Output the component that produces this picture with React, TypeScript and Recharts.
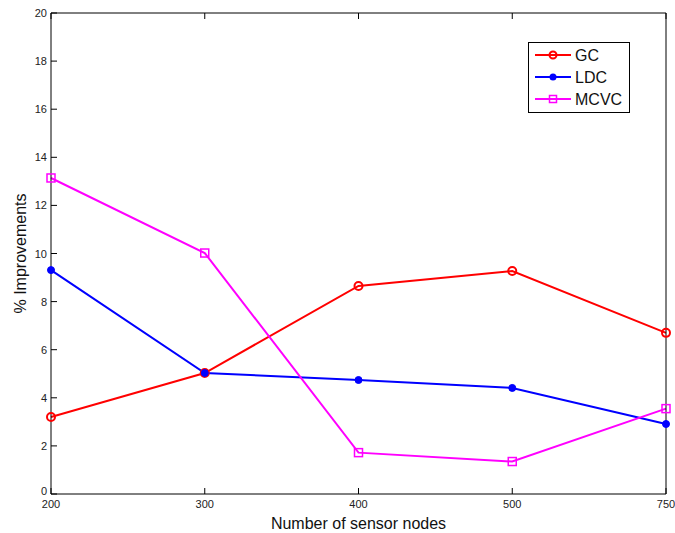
import { LineChart, Line, XAxis, YAxis } from "recharts";

const nodes = ["200", "300", "400", "500", "750"];
const gc = [3.2, 5.03, 8.65, 9.27, 6.7];
const ldc = [9.31, 5.03, 4.74, 4.41, 2.91];
const mcvc = [13.14, 10.02, 1.72, 1.35, 3.55];
const yTicks = [0, 2, 4, 6, 8, 10, 12, 14, 16, 18, 20];

const data = nodes.map((n, i) => ({ n, gc: gc[i], ldc: ldc[i], mcvc: mcvc[i] }));

const FONT = "'Liberation Sans', Arial, sans-serif";

const LeftTick = ({ x, y, payload }: any) => (
    <g>
        <line x1={x} y1={y} x2={x + 6} y2={y} stroke="#000" />
        <text x={x - 4} y={payload.value === 0 ? y + 1 : y + 4} textAnchor="end" fontSize={11} fill="#222" fontFamily={FONT}>{payload.value}</text>
    </g>
);
const RightTick = ({ x, y }: any) => <line x1={x} y1={y} x2={x - 6} y2={y} stroke="#000" />;
const BottomTick = ({ x, y, payload }: any) => (
    <g>
        <line x1={x} y1={y} x2={x} y2={y - 6} stroke="#000" />
        <text x={x} y={y + 14} textAnchor="middle" fontSize={11} fill="#222" fontFamily={FONT}>{payload.value}</text>
    </g>
);
const TopTick = ({ x, y }: any) => <line x1={x} y1={y} x2={x} y2={y + 6} stroke="#000" />;

const SquareDot = ({ cx, cy }: any) => (
    <rect x={cx - 4} y={cy - 4} width={8} height={8} fill="none" stroke="#ff00ff" strokeWidth={1.5} />
);

const items = [
    { name: "GC", color: "#ff0000", kind: "open" },
    { name: "LDC", color: "#0000ff", kind: "fill" },
    { name: "MCVC", color: "#ff00ff", kind: "square" },
];

const LegendBox = () => (
    <svg width={102} height={71} style={{ position: "absolute", left: 528, top: 42 }}>
        <rect x={0.5} y={0.5} width={101} height={70} fill="#fff" stroke="#000" />
        {items.map((it, i) => {
            const y = 13 + i * 22;
            return (
                <g key={it.name}>
                    <line x1={7} y1={y} x2={43} y2={y} stroke={it.color} strokeWidth={2} />
                    {it.kind === "open" && <circle cx={25} cy={y} r={3.5} fill="none" stroke={it.color} strokeWidth={2} />}
                    {it.kind === "fill" && <circle cx={25} cy={y} r={3.5} fill={it.color} />}
                    {it.kind === "square" && <rect x={21.5} y={y - 3.5} width={7} height={7} fill="none" stroke={it.color} strokeWidth={1.5} />}
                    <text x={47} y={y + 6} fontSize={16} fill="#111" fontFamily={FONT}>{it.name}</text>
                </g>
            );
        })}
    </svg>
);

export default function App() {
    return (
        <div style={{ position: "absolute", left: 0, top: 0, width: 675, height: 533, background: "#fff" }}>
            <LineChart width={675} height={533} data={data} margin={{ top: 12, right: 8, bottom: 0, left: 0 }}>
                <XAxis dataKey="n" xAxisId="b" scale="point" padding={{ left: 0, right: 0 }} height={39}
                    stroke="#000" tickLine={false} tickSize={0} tickMargin={0} tick={<BottomTick />} interval={0}
                    label={{ value: "Number of sensor nodes", position: "insideBottom", offset: 4, fontSize: 16, fill: "#111", fontFamily: FONT }} />
                <XAxis dataKey="n" xAxisId="t" orientation="top" scale="point" padding={{ left: 0, right: 0 }} height={1}
                    stroke="#000" tickLine={false} tickSize={0} tickMargin={0} tick={<TopTick />} interval={0} />
                <YAxis yAxisId="l" domain={[0, 20]} ticks={yTicks} width={51} stroke="#000" tickLine={false}
                    tickSize={0} tickMargin={0} tick={<LeftTick />} interval={0}
                    label={{ value: "% Improvements", angle: -90, position: "insideLeft", offset: 20, fontSize: 16, fill: "#111", fontFamily: FONT, style: { textAnchor: "middle" } }} />
                <YAxis yAxisId="r" orientation="right" domain={[0, 20]} ticks={yTicks} width={1} stroke="#000"
                    tickLine={false} tickSize={0} tickMargin={0} tick={<RightTick />} interval={0} />
                <Line xAxisId="b" yAxisId="l" dataKey="gc" stroke="#ff0000" strokeWidth={2} isAnimationActive={false}
                    dot={{ r: 4, fill: "none", stroke: "#ff0000", strokeWidth: 2 }} />
                <Line xAxisId="b" yAxisId="l" dataKey="ldc" stroke="#0000ff" strokeWidth={2} isAnimationActive={false}
                    dot={{ r: 3.5, fill: "#0000ff", stroke: "#0000ff", strokeWidth: 1 }} />
                <Line xAxisId="b" yAxisId="l" dataKey="mcvc" stroke="#ff00ff" strokeWidth={2} isAnimationActive={false}
                    dot={<SquareDot />} />
            </LineChart>
            <LegendBox />
        </div>
    );
}
